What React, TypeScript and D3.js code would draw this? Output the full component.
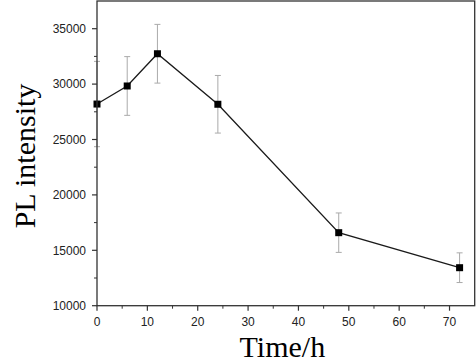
import React from "react";
import * as d3 from "d3";

const times = [0, 6, 12, 24, 48, 72];
const intensity = [28200, 29830, 32740, 28180, 16590, 13430];
const errors = [3850, 2650, 2650, 2600, 1780, 1340];
const xTicks = [0, 10, 20, 30, 40, 50, 60, 70];
const xMinor = [5, 15, 25, 35, 45, 55, 65];
const yTicks = [10000, 15000, 20000, 25000, 30000, 35000];
const yMinor = [12500, 17500, 22500, 27500, 32500];

const W = 476, H = 359;
const L = 97, R = 474.7, T = 1, B = 305.7;

export default function App() {
  const x = d3.scaleLinear().domain([0, 75]).range([L, R]);
  const y = d3.scaleLinear().domain([10000, 37500]).range([B, T]);
  const line = d3.line<number>().x((_, i) => x(times[i])).y((d) => y(d));
  const axisColor = "#333";
  const sans = "'Liberation Sans', Arial, sans-serif";
  const serif = "'Liberation Serif', 'Times New Roman', serif";
  return (
    <svg width={W} height={H} style={{ position: "absolute", left: 0, top: 0, background: "#fff" }}>
      <rect x={0} y={0} width={W} height={H} fill="#fff" />
      {times.map((t, i) => (
        <g key={"e" + i} stroke="#aaa" strokeWidth={1}>
          <line x1={x(t)} x2={x(t)} y1={y(intensity[i] + errors[i])} y2={y(intensity[i] - errors[i])} />
          <line x1={x(t) - 3} x2={x(t) + 3} y1={y(intensity[i] + errors[i])} y2={y(intensity[i] + errors[i])} />
          <line x1={x(t) - 3} x2={x(t) + 3} y1={y(intensity[i] - errors[i])} y2={y(intensity[i] - errors[i])} />
        </g>
      ))}
      <path d={line(intensity) || ""} fill="none" stroke="#1a1a1a" strokeWidth={1.3} />
      {times.map((t, i) => (
        <rect key={"m" + i} x={x(t) - 3.5} y={y(intensity[i]) - 3.5} width={7} height={7} fill="#000" />
      ))}
      <rect x={L} y={T} width={R - L} height={B - T} fill="none" stroke={axisColor} strokeWidth={1.3} />
      {xTicks.map((v) => (
        <g key={"xt" + v}>
          <line x1={x(v)} x2={x(v)} y1={B} y2={B + 5} stroke={axisColor} strokeWidth={1.2} />
          <text x={x(v)} y={326} textAnchor="middle" fontFamily={sans} fontSize={12} fill="#222">{v}</text>
        </g>
      ))}
      {xMinor.map((v) => (
        <line key={"xm" + v} x1={x(v)} x2={x(v)} y1={B} y2={B + 3} stroke={axisColor} strokeWidth={1} />
      ))}
      {yTicks.map((v) => (
        <g key={"yt" + v}>
          <line x1={L - 5} x2={L} y1={y(v)} y2={y(v)} stroke={axisColor} strokeWidth={1.2} />
          <text x={86} y={y(v) + 4.2} textAnchor="end" fontFamily={sans} fontSize={12} fill="#222">{v}</text>
        </g>
      ))}
      {yMinor.map((v) => (
        <line key={"ym" + v} x1={L - 3} x2={L} y1={y(v)} y2={y(v)} stroke={axisColor} strokeWidth={1} />
      ))}
      <text x={(L + R) / 2 - 3.5} y={356.5} textAnchor="middle" fontFamily={serif} fontSize={30} fill="#000">Time/h</text>
      <text transform={`translate(35,156) rotate(-90)`} textAnchor="middle" fontFamily={serif} fontSize={30} fill="#000">PL intensity</text>
    </svg>
  );
}
